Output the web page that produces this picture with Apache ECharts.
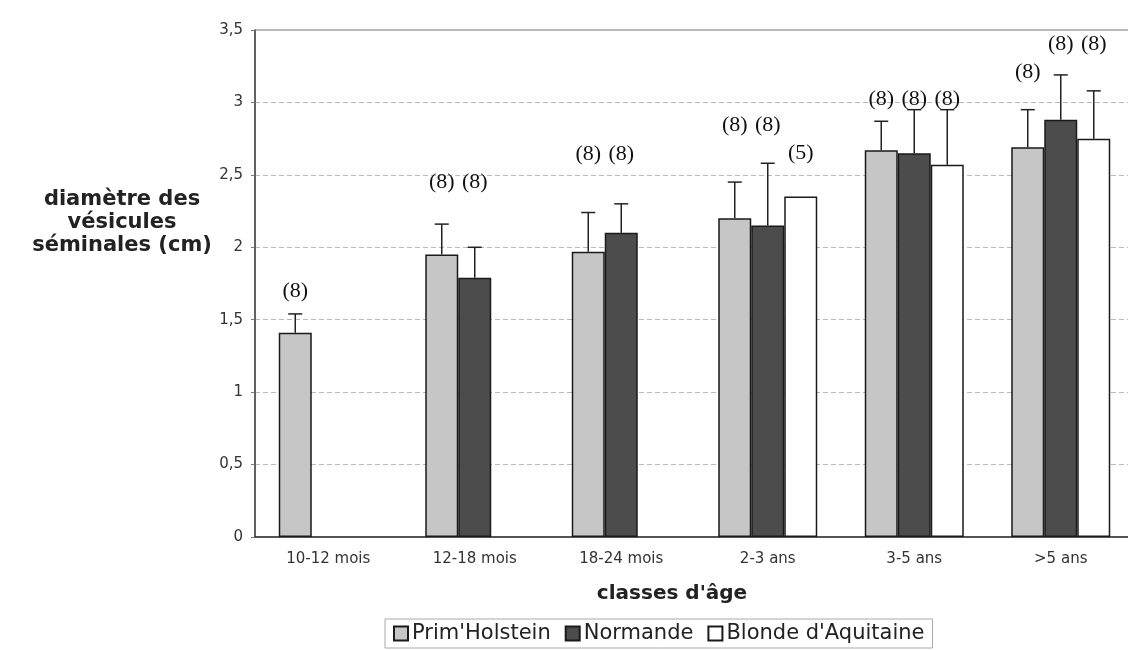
<!DOCTYPE html>
<html>
<head>
<meta charset="utf-8">
<script src="https://cdn.jsdelivr.net/npm/echarts@6/dist/echarts.min.js"></script>
<style>html,body{margin:0;padding:0;background:#fff;overflow:hidden}#c{width:1128px;height:650px}</style>
</head>
<body>
<div id="c"></div>
<script>
var categories = ['10-12 mois','12-18 mois','18-24 mois','2-3 ans','3-5 ans','>5 ans'];
var seriesNames = ["Prim'Holstein", 'Normande', "Blonde d'Aquitaine"];
var phMean = [1.41, 1.95, 1.97, 2.20, 2.67, 2.69];
var phErrTop = [1.54, 2.16, 2.24, 2.45, 2.87, 2.95];
var nMean = [null, 1.79, 2.10, 2.15, 2.65, 2.88];
var nErrTop = [null, 2.00, 2.30, 2.58, 2.95, 3.19];
var bMean = [null, null, null, 2.35, 2.57, 2.75];
var bErrTop = [null, null, null, null, 2.95, 3.08];
var phCount = ['(8)', '(8)', '(8)', '(8)', '(8)', '(8)'];
var nCount = [null, '(8)', '(8)', '(8)', '(8)', '(8)'];
var bCount = [null, null, null, '(5)', '(8)', '(8)'];
var phCountAt = [1.70, 2.45, 2.64, 2.84, 3.02, 3.21];
var nCountAt = [null, 2.45, 2.64, 2.84, 3.02, 3.40];
var bCountAt = [null, null, null, 2.65, 3.02, 3.40];
var yTicks = ['0', '0,5', '1', '1,5', '2', '2,5', '3', '3,5'];

var BAR_W = 33;
var colors = ['#c6c6c6', '#4c4c4c', '#ffffff'];

function barSeries(name, data, color) {
  return {
    name: name, type: 'bar', data: data, barWidth: BAR_W, barGap: '0%',
    itemStyle: { color: color, borderColor: '#1a1a1a', borderWidth: 1.5 },
    z: 2
  };
}

function annoSeries(idx, means, tops, counts, countAt) {
  var rows = [];
  for (var i = 0; i < categories.length; i++) {
    if (means[i] == null) continue;
    rows.push([i, means[i], tops[i] == null ? NaN : tops[i], countAt[i], counts[i]]);
  }
  return {
    type: 'custom', name: '_anno' + idx, data: rows, z: 5, silent: true,
    encode: { x: 0, y: [1, 2, 3] },
    renderItem: function (params, api) {
      var cat = api.value(0);
      var off = (idx - 1) * BAR_W;
      var base = api.coord([cat, api.value(1)]);
      var x = base[0] + off;
      var children = [];
      var top = api.value(2);
      if (!isNaN(top)) {
        var t = api.coord([cat, top]);
        children.push({ type: 'line', shape: { x1: x, y1: base[1], x2: x, y2: t[1] },
          style: { stroke: '#222', lineWidth: 1.5 } });
        children.push({ type: 'line', shape: { x1: x - 7, y1: t[1], x2: x + 7, y2: t[1] },
          style: { stroke: '#222', lineWidth: 1.5 } });
      }
      var lp = api.coord([cat, api.value(3)]);
      children.push({ type: 'text', x: x, y: lp[1],
        style: { text: rows[params.dataIndex][4], fill: '#111', font: '22px "Liberation Serif", serif',
          align: 'center', verticalAlign: 'middle' } });
      return { type: 'group', children: children };
    }
  };
}

var chart = echarts.init(document.getElementById('c'));
chart.setOption({
  animation: false,
  backgroundColor: '#fff',
  grid: { left: 255, width: 879, top: 30, bottom: 113, outerBoundsMode: 'none', containLabel: false,
    show: true, borderColor: '#777', borderWidth: 1 },
  legend: {
    data: seriesNames, bottom: 2, left: 385,
    itemWidth: 14, itemHeight: 14, itemGap: 14,
    borderColor: '#aaa', borderWidth: 1, padding: [4, 8],
    textStyle: { fontFamily: 'DejaVu Sans', fontSize: 21, color: '#222', padding: [0, 0, 0, -1] },
    icon: 'rect'
  },
  xAxis: {
    type: 'category', data: categories,
    axisLine: { lineStyle: { color: '#333', width: 1.5 } },
    axisTick: { show: false },
    axisLabel: { fontFamily: 'DejaVu Sans', fontSize: 15, color: '#333', margin: 15 }
  },
  yAxis: {
    type: 'value', min: 0, max: 3.5, interval: 0.5,
    axisLine: { show: true, lineStyle: { color: '#444', width: 1.5 } },
    axisTick: { show: true, length: 4, lineStyle: { color: '#777' } },
    axisLabel: { fontFamily: 'DejaVu Sans', fontSize: 15, color: '#333', margin: 12,
      formatter: function (v) { return yTicks[Math.round(v / 0.5)]; } },
    splitLine: { show: true, lineStyle: { color: '#b8b8b8', type: [5, 3], width: 1 } }
  },
  graphic: [{
    type: 'text', x: 122, y: 188,
    style: { text: 'diamètre des\nvésicules\nséminales (cm)', font: 'bold 21px "DejaVu Sans"',
      fill: '#222', align: 'center', lineHeight: 23 }
  }, {
    type: 'text', x: 672, y: 594,
    style: { text: "classes d'âge", font: 'bold 20px "DejaVu Sans"', fill: '#222',
      align: 'center', verticalAlign: 'middle' }
  }],
  series: [
    barSeries(seriesNames[0], phMean, colors[0]),
    barSeries(seriesNames[1], nMean, colors[1]),
    barSeries(seriesNames[2], bMean, colors[2]),
    annoSeries(0, phMean, phErrTop, phCount, phCountAt),
    annoSeries(1, nMean, nErrTop, nCount, nCountAt),
    annoSeries(2, bMean, bErrTop, bCount, bCountAt)
  ]
});
</script>
</body>
</html>
